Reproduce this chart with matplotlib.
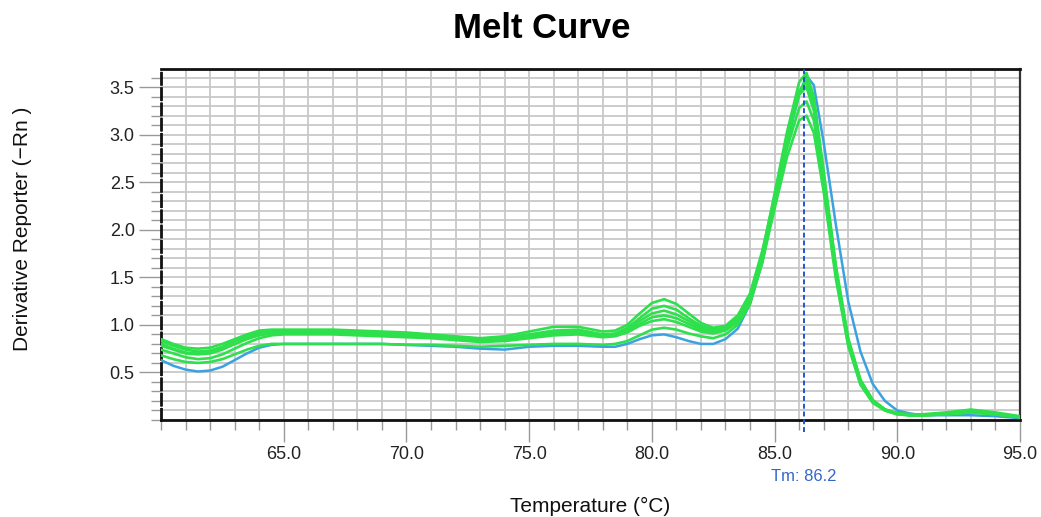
import matplotlib
matplotlib.use("Agg")
import matplotlib.pyplot as plt
from matplotlib.ticker import MultipleLocator, FixedLocator

plt.rcParams['font.family'] = ['Liberation Sans', 'DejaVu Sans']

temps = [60.0, 60.5, 61.0, 61.5, 62.0, 62.5, 63.0, 63.5, 64.0, 64.5,
         65.0, 66.0, 67.0, 68.0, 69.0, 70.0, 71.0, 72.0, 73.0, 74.0,
         75.0, 76.0, 77.0, 78.0, 78.5, 79.0, 79.5, 80.0, 80.5, 81.0,
         81.5, 82.0, 82.5, 83.0, 83.5, 84.0, 84.5, 85.0, 85.5, 86.0,
         86.3, 86.6, 87.0, 87.5, 88.0, 88.5, 89.0, 89.5, 90.0, 90.5,
         91.0, 92.0, 93.0, 94.0, 95.0]

green1 = [0.85, 0.80, 0.76, 0.75, 0.76, 0.80, 0.85, 0.90, 0.94, 0.95,
          0.95, 0.95, 0.95, 0.94, 0.93, 0.92, 0.90, 0.88, 0.86, 0.88,
          0.93, 0.98, 0.98, 0.93, 0.94, 1.00, 1.12, 1.23, 1.27, 1.22,
          1.12, 1.02, 0.97, 0.99, 1.10, 1.33, 1.78, 2.35, 2.95, 3.45,
          3.58, 3.35, 2.55, 1.55, 0.82, 0.40, 0.20, 0.11, 0.07, 0.06,
          0.06, 0.08, 0.11, 0.08, 0.04]
green2 = [0.83, 0.78, 0.74, 0.72, 0.73, 0.77, 0.83, 0.88, 0.92, 0.94,
          0.94, 0.94, 0.94, 0.93, 0.92, 0.91, 0.89, 0.87, 0.85, 0.86,
          0.90, 0.94, 0.95, 0.90, 0.91, 0.97, 1.07, 1.17, 1.20, 1.16,
          1.07, 0.99, 0.95, 0.97, 1.08, 1.30, 1.75, 2.38, 3.02, 3.55,
          3.65, 3.40, 2.62, 1.62, 0.86, 0.42, 0.21, 0.11, 0.07, 0.06,
          0.05, 0.06, 0.09, 0.07, 0.03]
green3 = [0.78, 0.74, 0.70, 0.69, 0.70, 0.74, 0.80, 0.86, 0.91, 0.93,
          0.93, 0.93, 0.93, 0.92, 0.91, 0.90, 0.88, 0.86, 0.84, 0.85,
          0.88, 0.92, 0.93, 0.89, 0.90, 0.95, 1.04, 1.12, 1.15, 1.11,
          1.04, 0.97, 0.94, 0.96, 1.06, 1.28, 1.72, 2.33, 2.95, 3.42,
          3.50, 3.25, 2.55, 1.58, 0.84, 0.41, 0.20, 0.11, 0.07, 0.05,
          0.05, 0.07, 0.10, 0.07, 0.03]
green4 = [0.80, 0.75, 0.71, 0.70, 0.71, 0.75, 0.80, 0.85, 0.89, 0.91,
          0.92, 0.92, 0.92, 0.91, 0.90, 0.89, 0.87, 0.85, 0.83, 0.84,
          0.87, 0.90, 0.91, 0.88, 0.89, 0.93, 1.01, 1.08, 1.10, 1.07,
          1.01, 0.95, 0.93, 0.95, 1.05, 1.26, 1.70, 2.28, 2.85, 3.28,
          3.35, 3.15, 2.48, 1.52, 0.80, 0.38, 0.19, 0.10, 0.06, 0.05,
          0.05, 0.06, 0.09, 0.06, 0.03]
green5 = [0.74, 0.70, 0.66, 0.64, 0.65, 0.69, 0.75, 0.81, 0.86, 0.89,
          0.90, 0.90, 0.90, 0.89, 0.88, 0.87, 0.86, 0.84, 0.82, 0.83,
          0.86, 0.89, 0.90, 0.87, 0.88, 0.92, 0.99, 1.04, 1.06, 1.03,
          0.98, 0.93, 0.91, 0.94, 1.03, 1.24, 1.66, 2.22, 2.76, 3.15,
          3.20, 3.02, 2.40, 1.48, 0.78, 0.37, 0.18, 0.10, 0.06, 0.05,
          0.05, 0.06, 0.08, 0.06, 0.03]
green6 = [0.68, 0.64, 0.61, 0.60, 0.61, 0.64, 0.69, 0.74, 0.78, 0.80,
          0.80, 0.80, 0.80, 0.80, 0.80, 0.79, 0.79, 0.78, 0.77, 0.78,
          0.79, 0.80, 0.80, 0.79, 0.80, 0.83, 0.89, 0.95, 0.97, 0.95,
          0.91, 0.88, 0.86, 0.90, 1.00, 1.22, 1.66, 2.28, 2.92, 3.45,
          3.55, 3.32, 2.58, 1.60, 0.85, 0.42, 0.21, 0.11, 0.07, 0.05,
          0.05, 0.06, 0.08, 0.06, 0.03]
blue1 = [0.63, 0.57, 0.53, 0.51, 0.52, 0.56, 0.63, 0.70, 0.76, 0.79,
         0.80, 0.80, 0.80, 0.80, 0.80, 0.79, 0.78, 0.77, 0.75, 0.74,
         0.77, 0.78, 0.78, 0.77, 0.77, 0.80, 0.85, 0.89, 0.90, 0.87,
         0.83, 0.80, 0.80, 0.85, 0.96, 1.22, 1.66, 2.28, 2.90, 3.42,
         3.62, 3.52, 2.92, 2.05, 1.25, 0.72, 0.38, 0.20, 0.10, 0.07,
         0.05, 0.05, 0.05, 0.04, 0.02]

green_series = [green1, green2, green3, green4, green5, green6]
x_tick_values = [65, 70, 75, 80, 85, 90, 95]
x_tick_labels = ["65.0", "70.0", "75.0", "80.0", "85.0", "90.0", "95.0"]
y_tick_values = [0.5, 1.0, 1.5, 2.0, 2.5, 3.0, 3.5]
y_tick_labels = ["0.5", "1.0", "1.5", "2.0", "2.5", "3.0", "3.5"]
tm_value = 86.2

fig = plt.figure(figsize=(10.41, 5.17), dpi=100)
ax = fig.add_axes([0.1547, 0.1876, 0.8251, 0.6789])

ax.plot(temps, blue1, color='#3aa2e0', lw=1.8, zorder=3)
for s in green_series:
    ax.plot(temps, s, color='#2ee04c', lw=1.9, zorder=4)

ax.set_xlim(60, 95)
ax.set_ylim(0, 3.69)

ax.xaxis.set_major_locator(FixedLocator(x_tick_values))
ax.set_xticklabels(x_tick_labels)
ax.xaxis.set_minor_locator(MultipleLocator(1.0))
ax.yaxis.set_major_locator(FixedLocator(y_tick_values))
ax.set_yticklabels(y_tick_labels)
ax.yaxis.set_minor_locator(MultipleLocator(0.1))

ax.grid(True, which='both', color='#c8c8c8', lw=1.3, zorder=0)
ax.set_axisbelow(True)

ax.tick_params(axis='both', which='major', length=16, width=1, color='#999999',
               labelsize=13, pad=3, labelcolor='#222222')
ax.tick_params(axis='both', which='minor', length=7, width=1, color='#999999')

for side in ['top', 'bottom']:
    ax.spines[side].set_color('#111111')
    ax.spines[side].set_linewidth(2)
ax.spines['right'].set_color('#333333')
ax.spines['right'].set_linewidth(1.6)
ax.spines['left'].set_color('#111111')
ax.spines['left'].set_linewidth(2)
ax.spines['left'].set_linestyle((0, (4, 1.5)))

ax.axvline(tm_value, ymin=-0.035, ymax=1, color='#2255cc', lw=1.4,
           ls=(0, (2.5, 1.5)), zorder=5, clip_on=False)
ax.text(tm_value, -0.16, f"Tm: {tm_value}", transform=ax.get_xaxis_transform(),
        color='#3366cc', fontsize=12, ha='center', va='center')

ax.set_xlabel("Temperature (°C)", fontsize=15, color='#111111')
ax.xaxis.set_label_coords(0.5, -0.22)
ax.set_ylabel("Derivative Reporter (\u2212Rn )", fontsize=15, color='#111111')
ax.yaxis.set_label_coords(-0.15, 0.545)

fig.text(0.52, 0.945, "Melt Curve", fontsize=25, fontweight='bold',
         ha='center', va='center', color='black')

fig.savefig("out.png", dpi=100)
